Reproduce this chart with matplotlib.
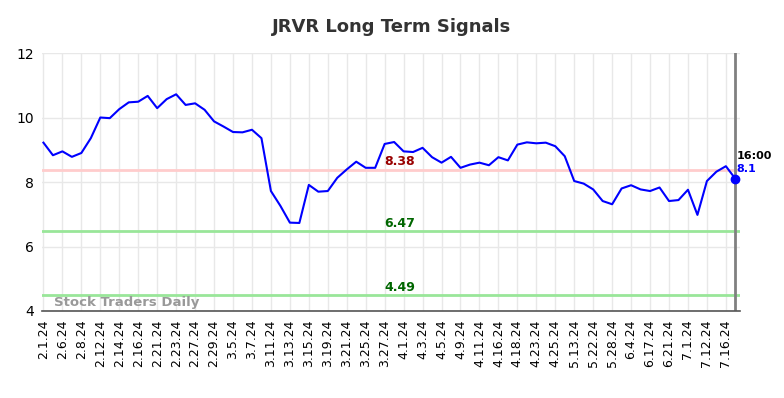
import matplotlib.pyplot as plt

# --- data ---
tick_labels = ["2.1.24", "2.6.24", "2.8.24", "2.12.24", "2.14.24", "2.16.24", "2.21.24",
               "2.23.24", "2.27.24", "2.29.24", "3.5.24", "3.7.24", "3.11.24", "3.13.24",
               "3.15.24", "3.19.24", "3.21.24", "3.25.24", "3.27.24", "4.1.24", "4.3.24",
               "4.5.24", "4.9.24", "4.11.24", "4.16.24", "4.18.24", "4.23.24", "4.25.24",
               "5.13.24", "5.22.24", "5.28.24", "6.4.24", "6.17.24", "6.21.24", "7.1.24",
               "7.12.24", "7.16.24"]

prices = [9.22, 8.83, 8.95, 8.78, 8.90, 9.36, 10.00, 9.98, 10.26, 10.47,
          10.49, 10.67, 10.29, 10.57, 10.72, 10.39, 10.44, 10.24, 9.88, 9.72,
          9.55, 9.54, 9.62, 9.36, 7.72, 7.26, 6.74, 6.73, 7.91, 7.70,
          7.72, 8.13, 8.39, 8.63, 8.44, 8.44, 9.18, 9.24, 8.95, 8.93,
          9.06, 8.77, 8.60, 8.78, 8.44, 8.54, 8.60, 8.52, 8.77, 8.67,
          9.16, 9.23, 9.20, 9.22, 9.11, 8.80, 8.03, 7.95, 7.77, 7.41,
          7.31, 7.80, 7.90, 7.77, 7.72, 7.83, 7.41, 7.44, 7.76, 6.98,
          8.03, 8.32, 8.49, 8.10]

resistance = 8.38
supports = [6.47, 4.49]
last_time = "16:00"
last_label = "8.1"

x = list(range(len(prices)))
tick_pos = list(range(0, len(prices), 2))[:len(tick_labels)]

fig = plt.figure(figsize=(7.84, 3.98), dpi=100)
ax = fig.add_axes([0.0536, 0.2186, 0.8904, 0.6482])

ax.axhline(resistance, color="#ffcccc", lw=2, zorder=1)
for s in supports:
    ax.axhline(s, color="#99e699", lw=2, zorder=1)

ax.plot(x, prices, color="#0000ff", lw=1.5, zorder=3)
ax.axvline(x[-1], color="#808080", lw=2, zorder=2)
ax.plot(x[-1], prices[-1], "o", color="#0000ff", ms=6, zorder=4)

ax.text(37.6, resistance + 0.04, f"{resistance:.2f}", color="#990000", fontsize=9,
        fontweight="bold", ha="center", va="bottom")
for s in supports:
    ax.text(37.6, s + 0.04, f"{s:.2f}", color="#006600", fontsize=9,
            fontweight="bold", ha="center", va="bottom")

ax.text(x[-1] + 0.1, prices[-1] + 0.55, last_time, color="black", fontsize=8,
        fontweight="bold", ha="left", va="bottom")
ax.text(x[-1] + 0.1, prices[-1] + 0.15, last_label, color="#0000ff", fontsize=8,
        fontweight="bold", ha="left", va="bottom")

ax.text(1.1, 4.06, "Stock Traders Daily", color="#999999", fontsize=9.5,
        fontweight="bold", ha="left", va="bottom")

ax.set_xlim(-0.15, 73.5)
ax.set_ylim(4, 12)
ax.set_yticks([4, 6, 8, 10, 12])
ax.set_xticks(tick_pos)
ax.set_xticklabels(tick_labels, rotation=90, fontsize=9)
ax.tick_params(axis="y", labelsize=10, length=0, pad=6)
ax.tick_params(axis="x", length=0, pad=6)
ax.grid(True, color="#e8e8e8", lw=1)
ax.set_axisbelow(True)

for side in ["top", "right", "left"]:
    ax.spines[side].set_visible(False)
ax.spines["bottom"].set_color("#555555")
ax.spines["bottom"].set_linewidth(1.2)

fig.suptitle("JRVR Long Term Signals", fontsize=13, fontweight="bold", color="#333333",
             y=0.955)

fig.savefig("out.png", dpi=100)
